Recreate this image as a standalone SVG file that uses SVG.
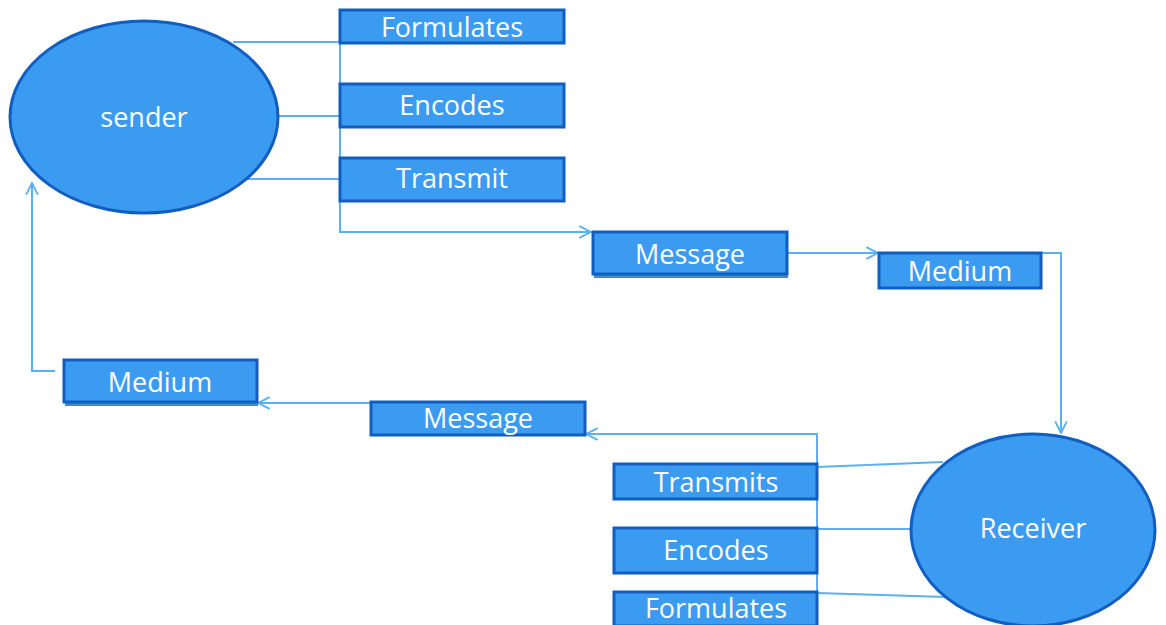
<svg xmlns="http://www.w3.org/2000/svg" width="1166" height="625" viewBox="0 0 1166 625">
<style>
.box{fill:#3b9bf0;stroke:#125ec0;stroke-width:3}
.shadow{fill:#4a86c0}
.ell{fill:#3b9bf0;stroke:#125ec0;stroke-width:3}
.t{font-family:"Open Sans","Liberation Sans",sans-serif;font-size:27px;fill:#ffffff;text-anchor:middle}
.c{fill:none;stroke:#5bb0f0;stroke-width:2}
</style>
<defs>
<marker id="ah" markerUnits="userSpaceOnUse" markerWidth="14" markerHeight="14" viewBox="0 0 12 12" refX="11" refY="6" orient="auto">
<path d="M1,1 L11,6 L1,11" fill="none" stroke="#5bb0f0" stroke-width="1.6"/>
</marker>
</defs>
<rect width="1166" height="625" fill="#ffffff"/>
<g id="connectors">
<path class="c" d="M233,42 H340"/>
<path class="c" d="M278,116 H340"/>
<path class="c" d="M245,179 H340"/>
<path class="c" d="M340,42 V232 H591" marker-end="url(#ah)"/>
<path class="c" d="M787,253 H878" marker-end="url(#ah)"/>
<path class="c" d="M1041,253 H1061 V433" marker-end="url(#ah)"/>
<path class="c" d="M943,462 L817,467"/>
<path class="c" d="M911,529 H817"/>
<path class="c" d="M946,597 L817,593"/>
<path class="c" d="M817,593 V434 H586" marker-end="url(#ah)"/>
<path class="c" d="M371,403 H258" marker-end="url(#ah)"/>
<path class="c" d="M55,371 H32 V183" marker-end="url(#ah)"/>
</g>
<g id="sender">
<ellipse class="ell" cx="144" cy="117" rx="134" ry="96"/>
<text class="t" x="144" y="127">sender</text>
</g>
<g id="formulates-1">
<rect class="box" x="340" y="10" width="224" height="33"/>
<text class="t" x="452" y="37">Formulates</text>
</g>
<g id="encodes-1">
<rect class="box" x="340" y="84" width="224" height="43"/>
<text class="t" x="452" y="115">Encodes</text>
</g>
<g id="transmit-1">
<rect class="box" x="340" y="158" width="224" height="43"/>
<text class="t" x="452" y="188">Transmit</text>
</g>
<g id="message-1">
<rect class="shadow" x="594" y="236" width="194" height="42"/>
<rect class="box" x="593" y="232" width="194" height="42"/>
<text class="t" x="690" y="264">Message</text>
</g>
<g id="medium-1">
<rect class="box" x="879" y="253" width="162" height="35"/>
<text class="t" x="960" y="281">Medium</text>
</g>
<g id="receiver">
<ellipse class="ell" cx="1033" cy="530" rx="122" ry="96"/>
<text class="t" x="1033" y="538">Receiver</text>
</g>
<g id="transmits-2">
<rect class="box" x="614" y="464" width="203" height="35"/>
<text class="t" x="716" y="492">Transmits</text>
</g>
<g id="encodes-2">
<rect class="box" x="614" y="528" width="203" height="45"/>
<text class="t" x="716" y="560">Encodes</text>
</g>
<g id="formulates-2">
<rect class="box" x="614" y="592" width="203" height="34"/>
<text class="t" x="716" y="618">Formulates</text>
</g>
<g id="message-2">
<rect class="box" x="371" y="402" width="214" height="33"/>
<text class="t" x="478" y="428">Message</text>
</g>
<g id="medium-2">
<rect class="shadow" x="65" y="364" width="193" height="42"/>
<rect class="box" x="64" y="360" width="193" height="42"/>
<text class="t" x="160" y="392">Medium</text>
</g>
</svg>
